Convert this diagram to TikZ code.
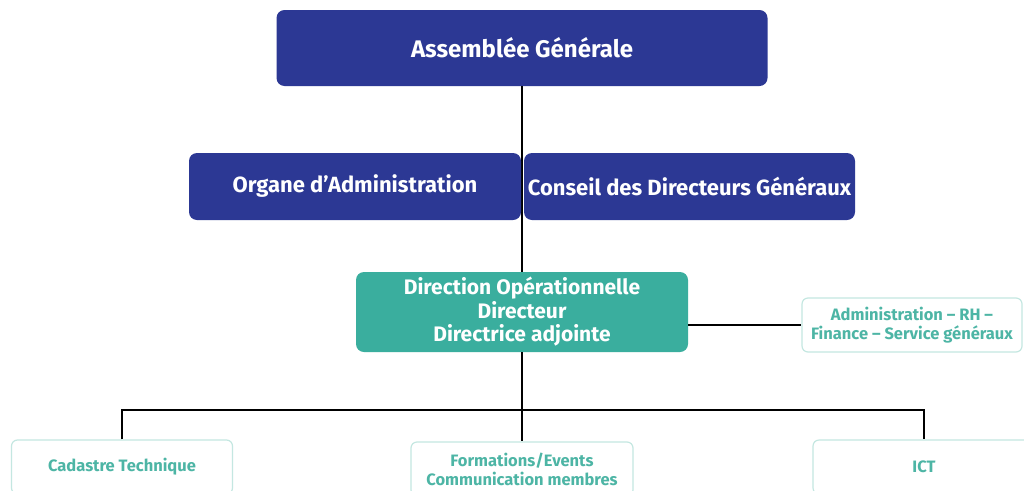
\documentclass[tikz,border=0pt]{standalone}
\usepackage{fontspec}
\setmainfont{Fira Sans}
\definecolor{navy}{HTML}{2C3894}
\definecolor{tealbox}{HTML}{3AAE9E}
\definecolor{tealtxt}{HTML}{4DB5A5}
\definecolor{tealline}{HTML}{C4E7E1}
\begin{document}
\begin{tikzpicture}[x=1pt,y=-1pt,
  darkbox/.style={fill=navy,rounded corners=8pt,text=white,font=\bfseries\fontsize{22}{26}\selectfont,align=center,inner sep=0pt},
  tealmain/.style={fill=tealbox,rounded corners=8pt,text=white,font=\bfseries\fontsize{21}{23.5}\selectfont,align=center,inner sep=0pt},
  lightbox/.style={draw=tealline,line width=1.2pt,fill=white,rounded corners=6pt,text=tealtxt,font=\bfseries\fontsize{16.5}{19}\selectfont,align=center,inner sep=0pt},
  conn/.style={draw=black,line width=1.8pt}]
\fill[white] (0,0) rectangle (1024,490);
\useasboundingbox (0,0) rectangle (1024,490);
\clip (0,0) rectangle (1024,490);
\node[darkbox,font=\bfseries\fontsize{24}{28}\selectfont,minimum width=491pt,minimum height=76pt] (ag) at (522,48) {Assemblée Générale};
\node[tealmain,minimum width=332pt,minimum height=80pt] (dir) at (522,312) {Direction Opérationnelle\\Directeur\\Directrice adjointe};
\draw[conn] (ag.south) -- (dir.north);
\node[darkbox,minimum width=332pt,minimum height=67pt] (org) at (355,186.5) {Organe d’Administration};
\node[darkbox,minimum width=331pt,minimum height=67pt] (con) at (689.5,186.5) {Conseil des Directeurs Généraux};
\node[lightbox,minimum width=220pt,minimum height=54pt] (adm) at (912,325) {Administration – RH –\\Finance – Service généraux};
\node[lightbox,minimum width=221pt,minimum height=54pt] (cad) at (122,467) {Cadastre Technique};
\node[lightbox,minimum width=222pt,minimum height=54pt] (for) at (522,469) {Formations/Events\\Communication membres};
\node[lightbox,minimum width=222pt,minimum height=54pt] (ict) at (924,467) {ICT};
\draw[conn] (dir.east |- adm.west) -- (adm.west);
\coordinate (bus) at (522,410);
\draw[conn] (dir.south) -- (for.north);
\draw[conn] (cad.north) |- (bus) -| (ict.north);
\end{tikzpicture}
\end{document}
